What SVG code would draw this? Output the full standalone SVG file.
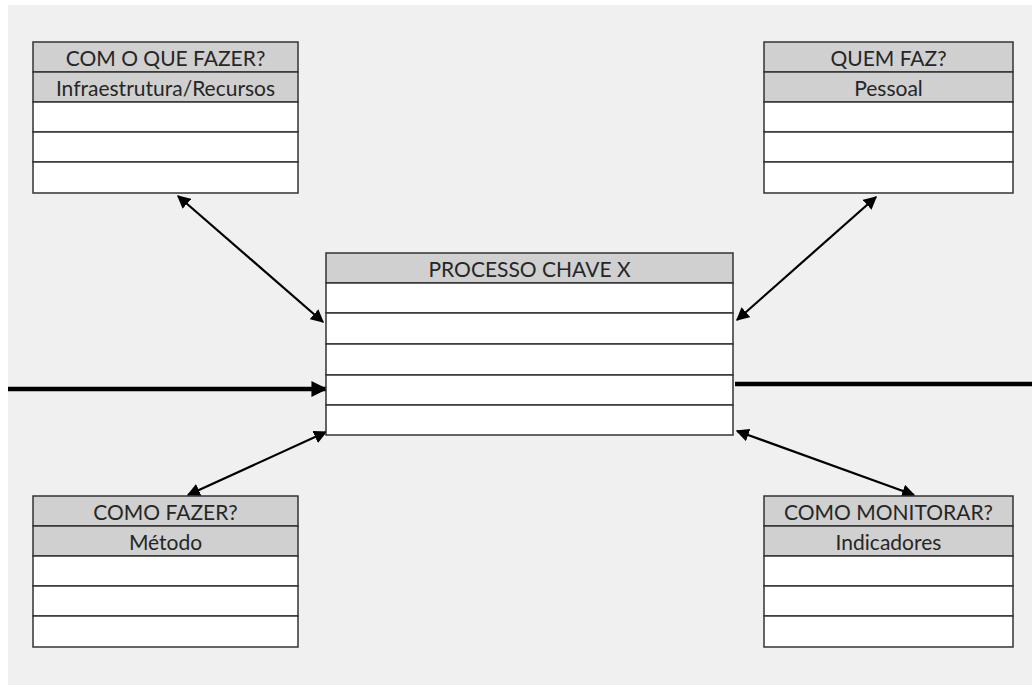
<svg xmlns="http://www.w3.org/2000/svg" width="1032" height="685" viewBox="0 0 1032 685">
<defs>
<style>
.hd{fill:#d0d0d0;stroke:#333;stroke-width:1.5}
.rw{fill:#fff;stroke:#333;stroke-width:1.5}
.t{font-family:Lato,"Open Sans",sans-serif;font-size:21px;fill:#262626;text-anchor:middle}
.ln{stroke:#000;stroke-width:2.2;fill:none}
.thick{stroke:#000;stroke-width:4.5;fill:none}
</style>
<marker id="ah" viewBox="0 0 10 10" refX="9" refY="5" markerWidth="6" markerHeight="6" markerUnits="strokeWidth" orient="auto-start-reverse">
<path d="M0,0 L10,5 L0,10 z" fill="#000"/>
</marker>
<marker id="ahb" viewBox="0 0 10 10" refX="9" refY="5" markerWidth="3.6" markerHeight="4" markerUnits="strokeWidth" orient="auto">
<path d="M0,0 L10,5 L0,10 z" fill="#000"/>
</marker>
</defs>
<rect x="0" y="0" width="1032" height="685" fill="#fff"/>
<rect x="8" y="5" width="1024" height="680" fill="#f0f0f0"/>

<g id="connectors">
<line class="ln" x1="178" y1="196" x2="323" y2="322" marker-start="url(#ah)" marker-end="url(#ah)"/>
<line class="ln" x1="876" y1="197" x2="737" y2="320" marker-start="url(#ah)" marker-end="url(#ah)"/>
<line class="ln" x1="188" y1="495" x2="326" y2="432" marker-start="url(#ah)" marker-end="url(#ah)"/>
<line class="ln" x1="737" y1="431" x2="914" y2="495" marker-start="url(#ah)" marker-end="url(#ah)"/>
<line class="thick" x1="8" y1="389" x2="326" y2="389" marker-end="url(#ahb)"/>
<line class="thick" x1="735" y1="384" x2="1032" y2="384"/>
</g>

<g id="com-o-que-fazer">
<rect class="hd" x="33" y="42" width="265" height="30"/>
<rect class="hd" x="33" y="72" width="265" height="30"/>
<rect class="rw" x="33" y="102" width="265" height="30"/>
<rect class="rw" x="33" y="132" width="265" height="30"/>
<rect class="rw" x="33" y="162" width="265" height="31"/>
<text class="t" x="165.5" y="66">COM O QUE FAZER?</text>
<text class="t" x="165.5" y="96">Infraestrutura/Recursos</text>
</g>

<g id="quem-faz">
<rect class="hd" x="764" y="42" width="249" height="30"/>
<rect class="hd" x="764" y="72" width="249" height="30"/>
<rect class="rw" x="764" y="102" width="249" height="30"/>
<rect class="rw" x="764" y="132" width="249" height="30"/>
<rect class="rw" x="764" y="162" width="249" height="31"/>
<text class="t" x="888.5" y="66">QUEM FAZ?</text>
<text class="t" x="888.5" y="96">Pessoal</text>
</g>

<g id="processo-chave">
<rect class="hd" x="326" y="253" width="407" height="30"/>
<rect class="rw" x="326" y="283" width="407" height="30"/>
<rect class="rw" x="326" y="313" width="407" height="31"/>
<rect class="rw" x="326" y="344" width="407" height="31"/>
<rect class="rw" x="326" y="375" width="407" height="30"/>
<rect class="rw" x="326" y="405" width="407" height="30"/>
<text class="t" x="529.5" y="277">PROCESSO CHAVE X</text>
</g>

<g id="como-fazer">
<rect class="hd" x="33" y="496" width="265" height="30"/>
<rect class="hd" x="33" y="526" width="265" height="30"/>
<rect class="rw" x="33" y="556" width="265" height="30"/>
<rect class="rw" x="33" y="586" width="265" height="30"/>
<rect class="rw" x="33" y="616" width="265" height="31"/>
<text class="t" x="165.5" y="520">COMO FAZER?</text>
<text class="t" x="165.5" y="550">Método</text>
</g>

<g id="como-monitorar">
<rect class="hd" x="764" y="496" width="249" height="30"/>
<rect class="hd" x="764" y="526" width="249" height="30"/>
<rect class="rw" x="764" y="556" width="249" height="30"/>
<rect class="rw" x="764" y="586" width="249" height="30"/>
<rect class="rw" x="764" y="616" width="249" height="31"/>
<text class="t" x="888.5" y="520">COMO MONITORAR?</text>
<text class="t" x="888.5" y="550">Indicadores</text>
</g>
</svg>
